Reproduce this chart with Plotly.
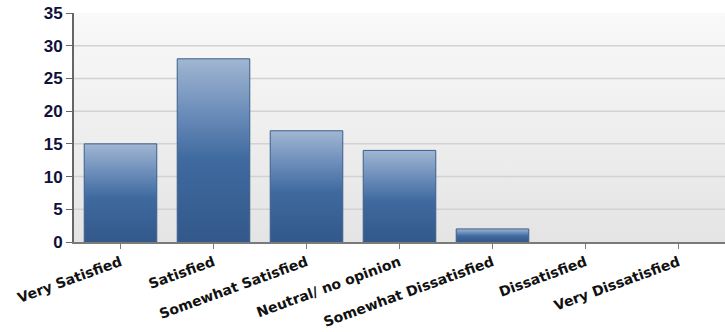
import plotly.graph_objects as go

# Survey responses
categories = ["Very Satisfied", "Satisfied", "Somewhat Satisfied", "Neutral/ no opinion",
              "Somewhat Dissatisfied", "Dissatisfied", "Very Dissatisfied"]
counts = [15, 28, 17, 14, 2, 0, 0]
y_ticks = [0, 5, 10, 15, 20, 25, 30, 35]

y_max = 35
half_width = 0.39
x_lo, x_hi = -0.5, len(categories) - 0.5

fig = go.Figure()

# Plot-area background: soft vertical gradient
fig.add_trace(go.Scatter(
    x=[x_lo, x_lo, x_hi, x_hi, x_lo], y=[0, y_max, y_max, 0, 0],
    mode="lines", line=dict(width=0), fill="toself",
    fillgradient=dict(type="vertical",
                      colorscale=[[0, "#e4e4e4"], [1, "#f9f9f9"]]),
    hoverinfo="skip", showlegend=False,
))

# Horizontal gridlines, kept under the bars
gx, gy = [], []
for t in y_ticks[1:-1]:
    gx += [x_lo, x_hi, None]
    gy += [t, t, None]
fig.add_trace(go.Scatter(x=gx, y=gy, mode="lines",
                         line=dict(color="#d2d2d2", width=1.5),
                         hoverinfo="skip", showlegend=False))

# Bars with a light-to-dark blue gradient
for i, (cat, v) in enumerate(zip(categories, counts)):
    if v <= 0:
        continue
    fig.add_trace(go.Scatter(
        x=[i - half_width, i - half_width, i + half_width, i + half_width, i - half_width],
        y=[0, v, v, 0, 0],
        mode="lines", line=dict(color="#3b5f8c", width=1), fill="toself",
        fillgradient=dict(type="vertical", start=0, stop=v,
                          colorscale=[[0, "#33588a"], [0.45, "#3f6a9f"],
                                      [0.7, "#6a8cb9"], [1, "#a1b6d2"]]),
        name=cat, hovertemplate=f"{cat}: {v}<extra></extra>", showlegend=False,
    ))

fig.update_layout(
    width=725, height=332,
    margin=dict(l=74, r=0, t=13, b=90),
    paper_bgcolor="white", plot_bgcolor="white",
    font=dict(family="Liberation Sans, Arial, sans-serif"),
    xaxis=dict(
        range=[x_lo, x_hi], tickvals=list(range(len(categories))), ticktext=categories,
        tickangle=-20, showgrid=False, zeroline=False,
        showline=True, linecolor="#7a7a7a", linewidth=2,
        ticks="outside", ticklen=5, tickcolor="#7a7a7a", tickwidth=1,
        tickfont=dict(size=14, color="#111111", family="DejaVu Sans, Verdana, sans-serif", weight="bold"),
    ),
    yaxis=dict(
        range=[0, y_max], tickvals=y_ticks, showgrid=False, zeroline=False,
        showline=True, linecolor="#666666", linewidth=2,
        ticks="outside", ticklen=6, tickcolor="#666666", tickwidth=1,
        tickfont=dict(size=17, color="#10103a", family="Liberation Sans, Arial, sans-serif", weight="bold"),
    ),
)

fig.write_html("out.html")
